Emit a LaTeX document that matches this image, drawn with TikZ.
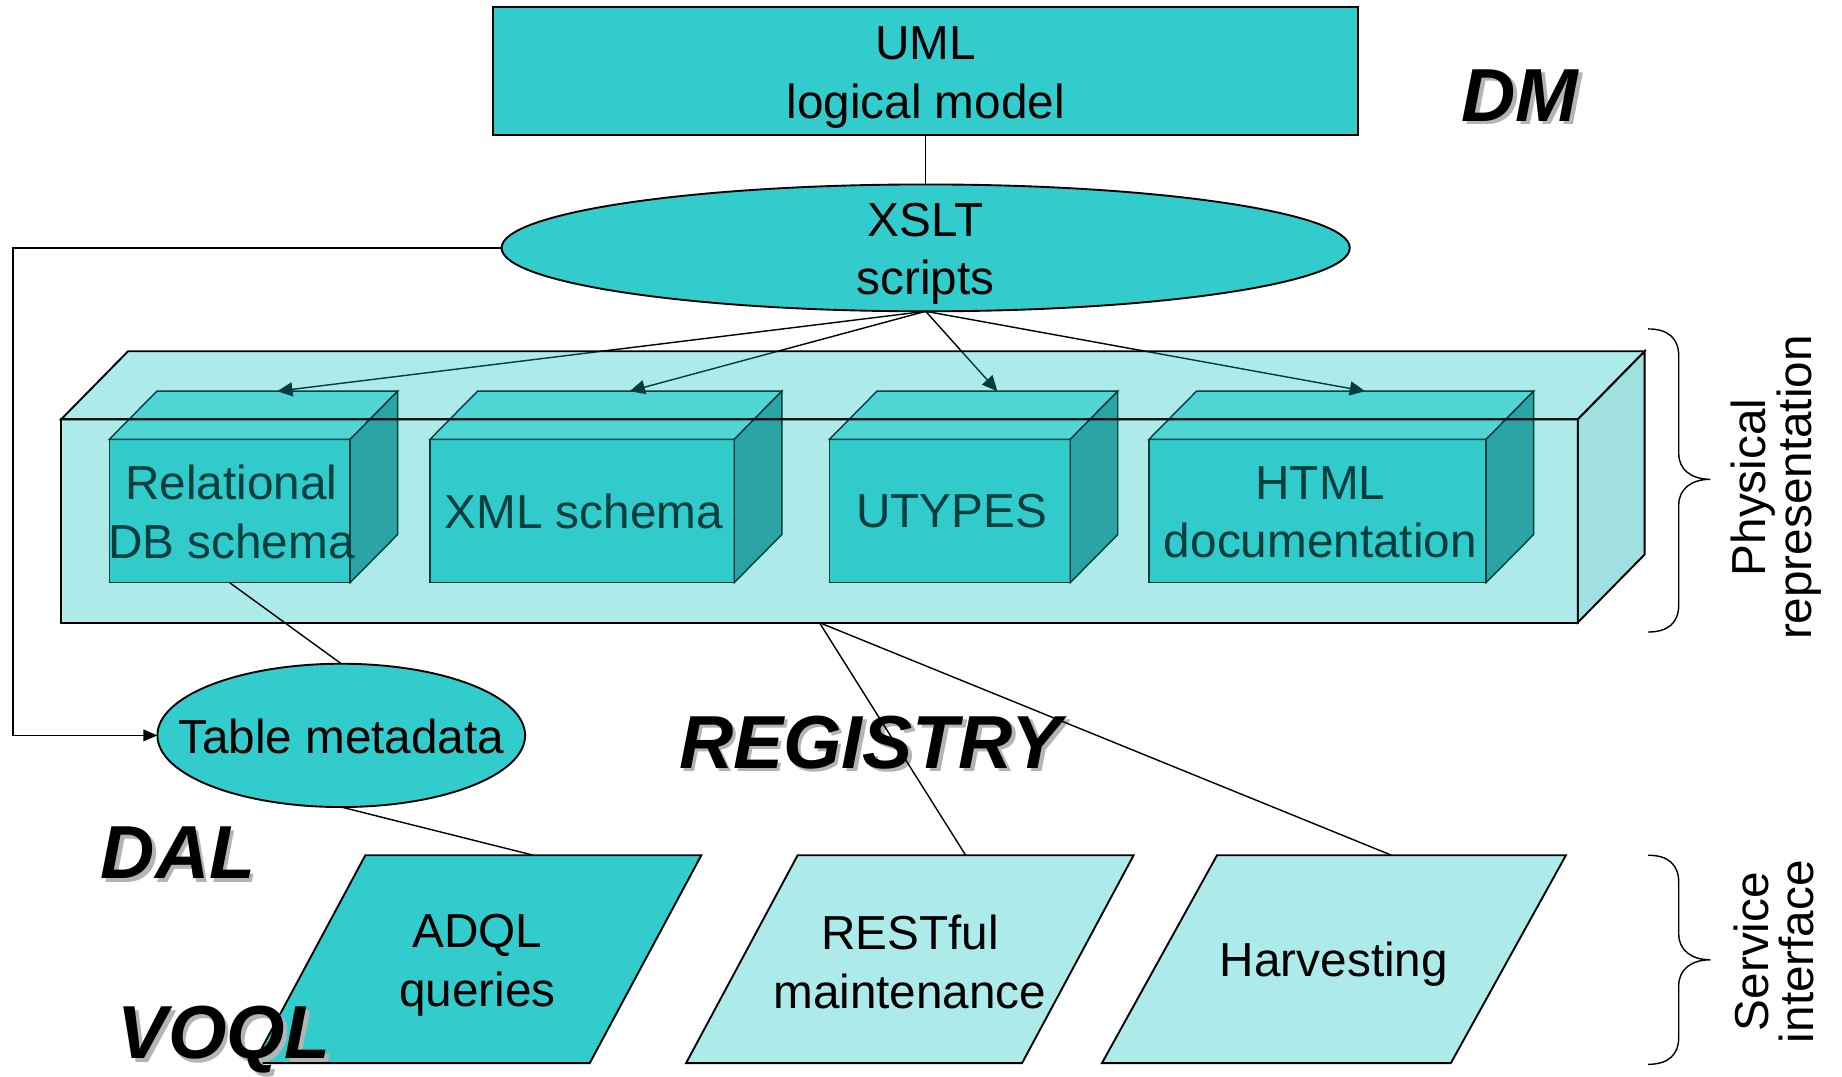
\documentclass[tikz,border=0pt]{standalone}
\usepackage{fontspec}
\setmainfont{Liberation Sans}
\usetikzlibrary{shapes.geometric,calc,arrows.meta}
\definecolor{teal1}{HTML}{33CCCC}
\definecolor{boxfront}{HTML}{4BD2D2}
\definecolor{boxtop}{HTML}{76E0E0}
\definecolor{boxright}{HTML}{3E9999}
\definecolor{ovl}{HTML}{00BEBE}
\definecolor{ovlR}{HTML}{1CB4B4}
\definecolor{lightc}{HTML}{ADEAEA}
\definecolor{shadowgray}{HTML}{B4B4B4}
\begin{document}
\begin{tikzpicture}[x=0.5pt,y=-0.5pt,
  txt/.style={font=\fontsize{20.3}{25}\selectfont, align=center, inner sep=0pt},
  rtxt/.style={font=\fontsize{20.3}{19.5}\selectfont, align=center, inner sep=0pt, rotate=90},
  edge/.style={draw=black, line width=0.8pt},
  conn/.style={draw=black, line width=0.6pt},
  arr/.style={conn, -{Triangle[length=6.5pt,width=6pt]}},
  frontface/.style={draw=black, line width=0.6pt, fill=boxfront, rectangle, inner sep=0pt, outer sep=0pt, minimum height=61pt},
  topface/.style={draw=black, line width=0.6pt, fill=boxtop},
  sideface/.style={draw=black, line width=0.6pt, fill=boxright},
  glass/.style={draw=black, line width=0.8pt, fill=ovl, fill opacity=0.32},
  glassR/.style={draw=black, line width=0.8pt, fill=ovlR, fill opacity=0.42},
  big/.style={font=\fontsize{32}{38}\selectfont\bfseries\itshape, inner sep=0pt},
  bigshadow/.style={big, text=shadowgray},
  para/.style={draw=black, line width=0.8pt}
]
\useasboundingbox (0,0) rectangle (1568,916);

% UML box and XSLT ellipse
\node[edge, fill=teal1, minimum width=368pt, minimum height=54.5pt, inner sep=0pt, outer sep=0pt] (uml) at (788,60.5) {};
\node[txt] (umlL) at (788,66) {UML\\logical model};
\node[edge, ellipse, fill=teal1, minimum width=361pt, minimum height=54pt, inner sep=0pt, outer sep=0pt] (xslt) at (788,211) {};
\node[txt] (xsltL) at (788,216) {XSLT\\scripts};
\draw[conn] (uml.south) -- (xslt.north);

% inner 3D boxes
\foreach \n/\cx/\w in {rel/195.5/205, xml/495.5/259, uty/808.5/205, html/1121.5/287} {
  \node[frontface, minimum width=\w*0.5pt] (\n) at (\cx,435) {};
  \draw[topface] (\n.north west) -- ++(40.5,-41) -- ($(\n.north east)+(40.5,-41)$) -- (\n.north east) -- cycle;
  \draw[sideface] (\n.north east) -- ++(40.5,-41) -- ($(\n.south east)+(40.5,-41)$) -- (\n.south east) -- cycle;
  \coordinate (\n-top) at ($(\n.north)+(40.5,-41)$);
}
\node[txt] (relL) at (197,435.5) {Relational\\DB schema};
\node[txt] (xmlL) at (497,435) {XML schema};
\node[txt] (utyL) at (810,435) {UTYPES};
\node[txt] (htmlL) at (1124,436) {HTML\\documentation};

% arrows from XSLT scripts
\foreach \n in {rel,xml,uty,html} \draw[arr] (xslt.south) -- (\n-top);

% translucent container
\node[glass, minimum width=645.5pt, minimum height=86.5pt, inner sep=0pt, outer sep=0pt] (cont) at (697.5,443.5) {};
\draw[glass] (cont.north west) -- ++(57,-58) -- ($(cont.north east)+(57,-58)$) -- (cont.north east) -- cycle;
\draw[glassR] (cont.north east) -- ++(57,-58) -- ($(cont.south east)+(57,-58)$) -- (cont.south east) -- cycle;

% Table metadata
\node[edge, ellipse, fill=teal1, minimum width=156.5pt, minimum height=61pt, inner sep=0pt, outer sep=0pt] (tmeta) at (290.5,626) {};
\node[txt] (tmetaL) at (290.5,627) {Table metadata};
\draw[conn] (rel.south) -- (tmeta.north);
\draw[conn, -{Triangle[length=6pt,width=5pt]}] (xslt.west) -- ++(-416,0) |- (tmeta.west);

% service parallelograms
\draw[para, fill=teal1] (216,905) -- (311,728) -- (597,728) -- (502,905) -- cycle;
\node[txt] (adql) at (406.5,822) {ADQL\\queries};
\coordinate (adql-top) at (454,728);
\draw[para, fill=lightc] (584,905) -- (679,728) -- (965,728) -- (870,905) -- cycle;
\node[txt] (rest) at (774.5,819) {RESTful\\maintenance};
\coordinate (rest-top) at (822,728);
\draw[para, fill=lightc] (938,905) -- (1036,728) -- (1333,728) -- (1235,905) -- cycle;
\node[txt] (harv) at (1135.5,821) {Harvesting};
\coordinate (harv-top) at (1184.5,728);

% big labels with shadow
\node[bigshadow] (dmS) at (1297,84) {DM};
\node[big] (dm) at (1294,81) {DM};
\node[bigshadow] (regS) at (744,635) {REGISTRY};
\node[big] (reg) at (741,632) {REGISTRY};
\node[bigshadow] (dalS) at (154.5,729) {DAL};
\node[big] (dal) at (151.5,726) {DAL};
\node[bigshadow] (voqlS) at (194,888) {VOQL};
\node[big] (voql) at (191,885) {VOQL};

% connectors to services
\draw[conn] (tmeta.south) -- (adql-top);
\draw[conn] (cont.south) -- (rest-top);
\draw[conn] (cont.south) -- (harv-top);

% braces
\draw[conn] (1403,280) .. controls (1420,280) and (1429,288) .. (1429,303) -- (1429,386) .. controls (1429,400) and (1440,408) .. (1456,408) .. controls (1440,408) and (1429,416) .. (1429,430) -- (1429,515) .. controls (1429,530) and (1420,538) .. (1403,538);
\draw[conn] (1403,728) .. controls (1420,728) and (1429,736) .. (1429,751) -- (1429,795) .. controls (1429,809) and (1440,817) .. (1456,817) .. controls (1440,817) and (1429,825) .. (1429,839) -- (1429,883) .. controls (1429,898) and (1420,906) .. (1403,906);
\node[rtxt] (phys) at (1512,415) {Physical\\representation};
\node[rtxt] (serv) at (1510,810) {Service\\interface};
\end{tikzpicture}
\end{document}
